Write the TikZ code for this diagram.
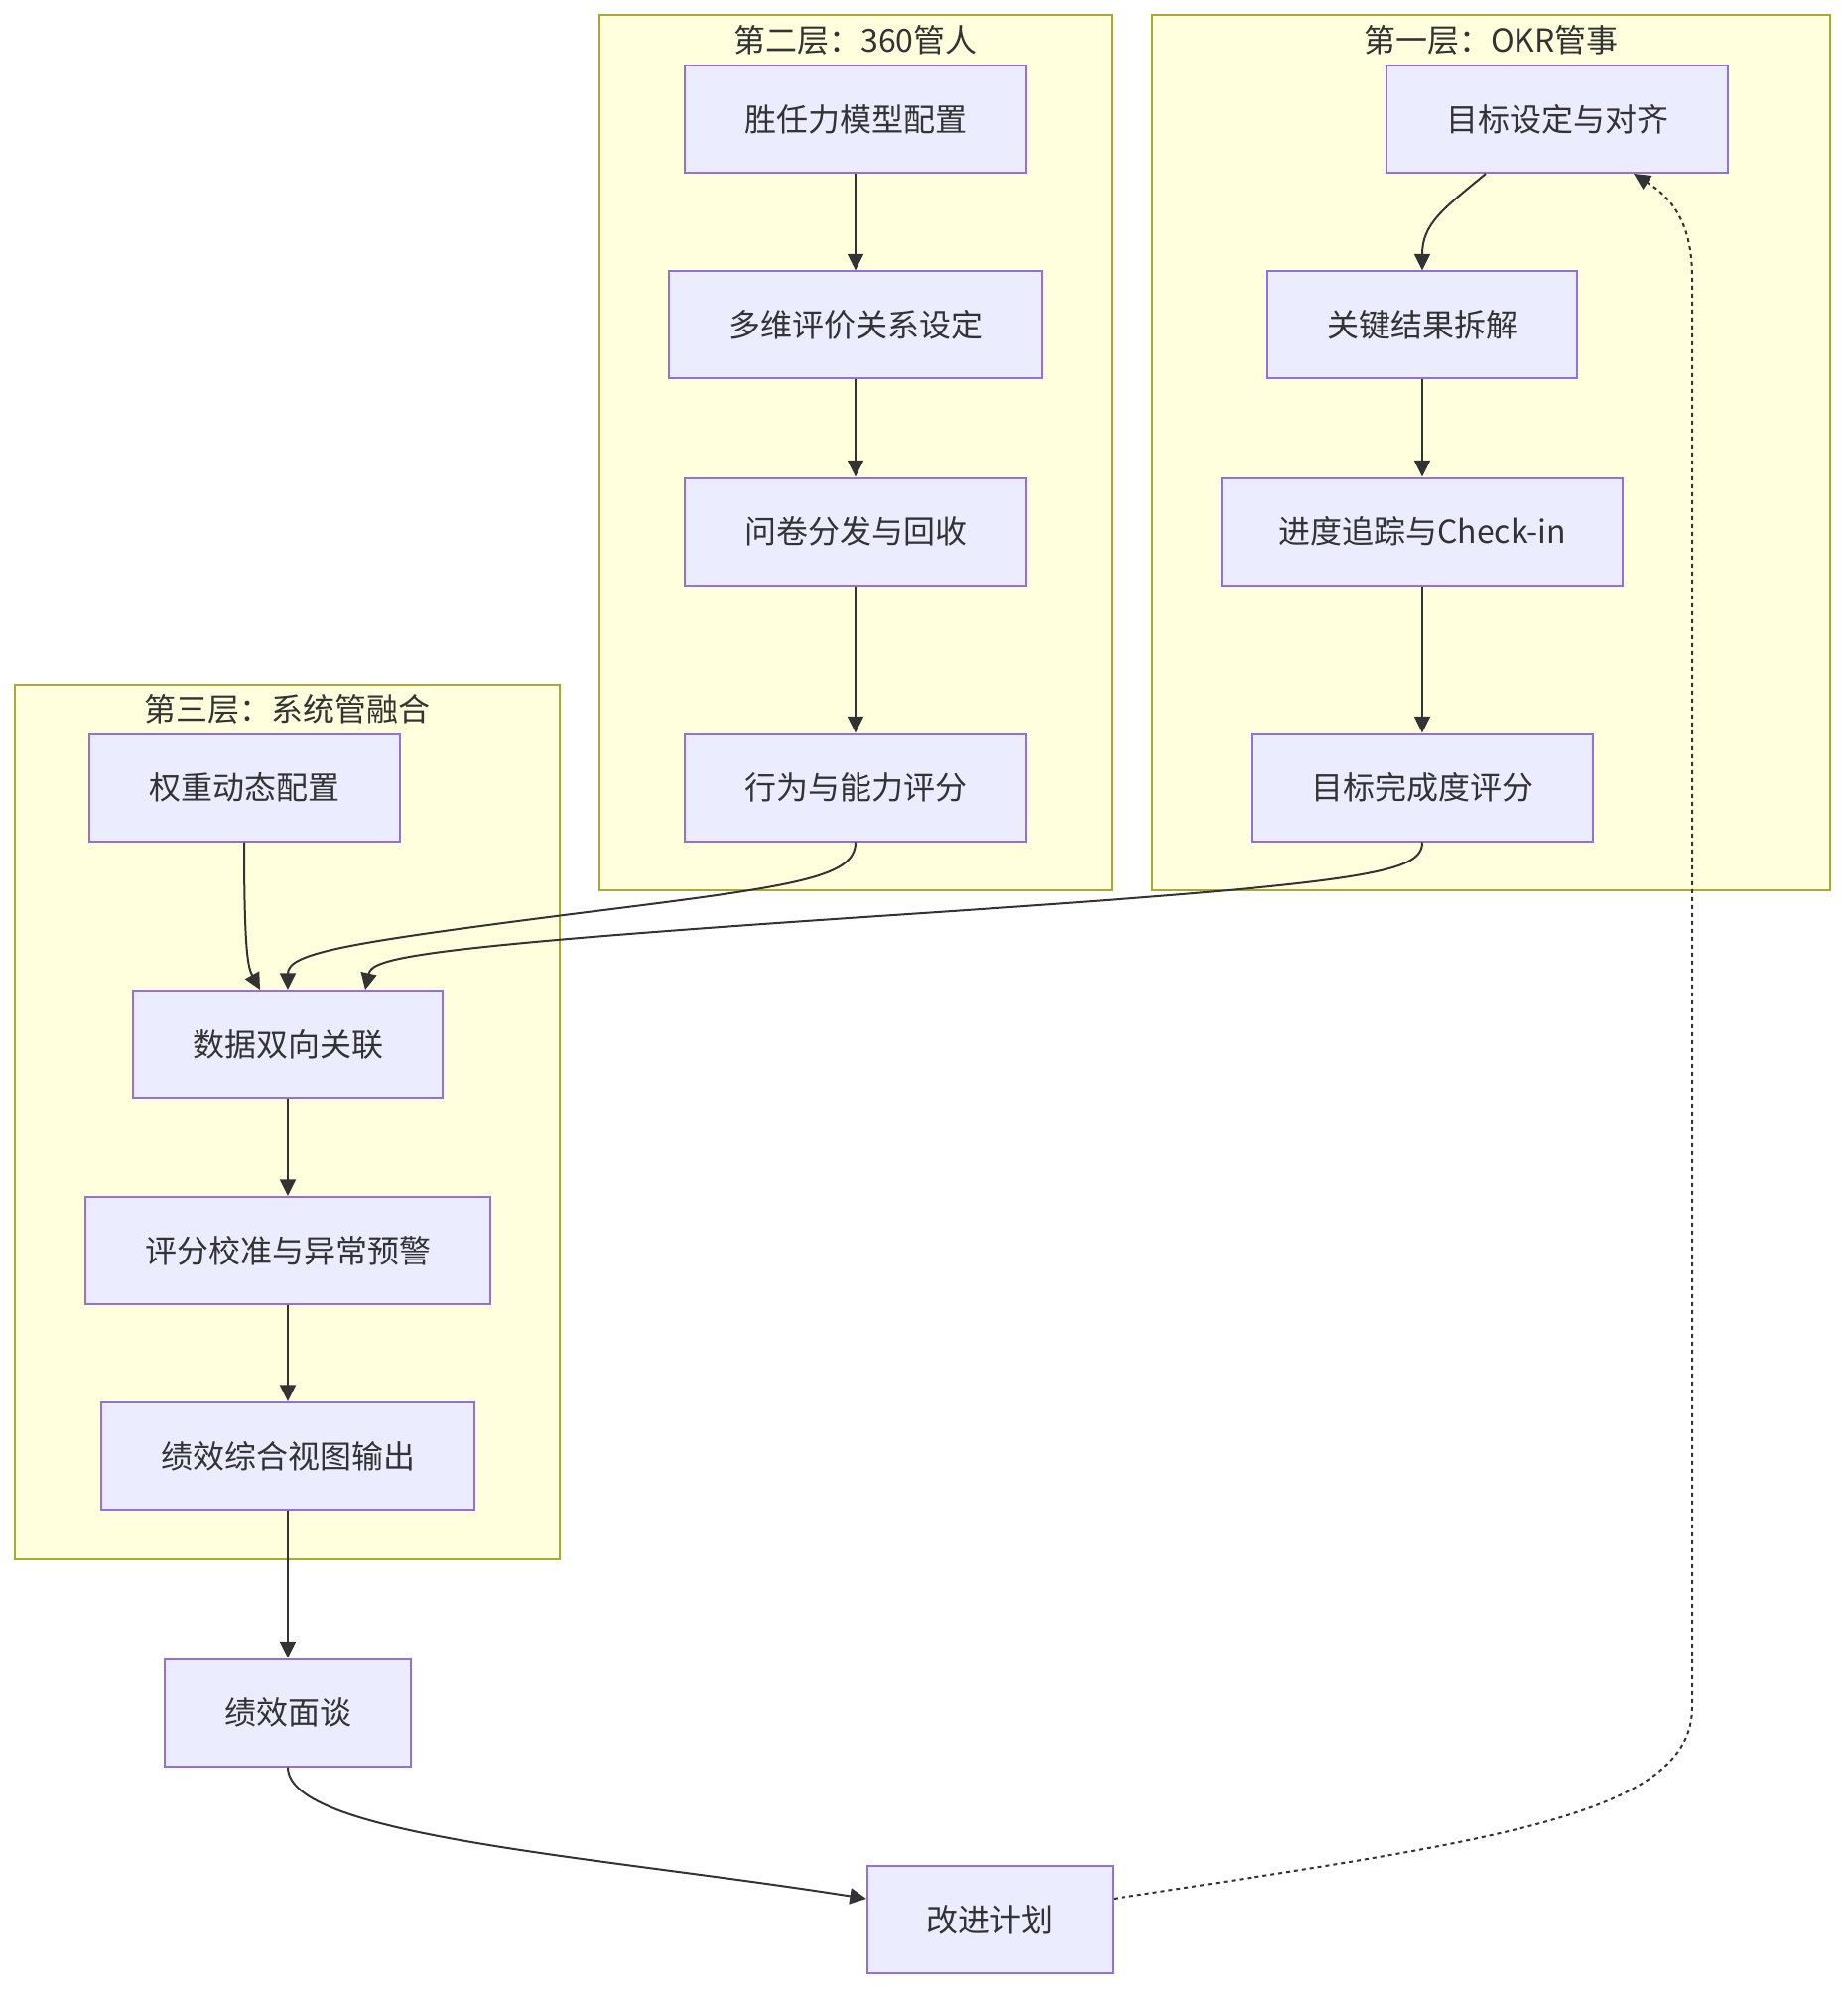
\documentclass[tikz,border=0pt]{standalone}
\usepackage{fontspec}
\setmainfont{Noto Sans CJK SC}
\usetikzlibrary{arrows.meta}
\newlength\pxu \setlength\pxu{0.75pt}
\definecolor{nodefill}{HTML}{ECECFF}
\definecolor{nodestroke}{HTML}{9370DB}
\definecolor{clfill}{HTML}{FFFFDE}
\definecolor{clstroke}{HTML}{AAAA33}
\definecolor{edgec}{HTML}{333333}
\definecolor{txt}{HTML}{333333}
\begin{document}
\begin{tikzpicture}[x=0.75pt,y=-0.75pt,
  box/.style={draw=nodestroke, fill=nodefill, line width=1.5pt, minimum height=108\pxu, inner sep=0pt, text=txt, font=\fontsize{24}{28}\selectfont},
  cluster/.style={draw=clstroke, fill=clfill, line width=1.5pt, inner sep=0pt},
  cltitle/.style={text=txt, inner sep=0pt, font=\fontsize{24}{28}\selectfont},
  edge/.style={draw=edgec, line width=1.5pt, -{Triangle[length=12.5pt,width=12pt]}},
  dotedge/.style={edge, dash pattern=on 3pt off 3pt}]
\useasboundingbox[fill=white] (0,0) rectangle (1861,2004);
% clusters
\node[cluster, minimum width=516\pxu, minimum height=882\pxu] (c2) at (862,456) {};
\node[cluster, minimum width=683\pxu, minimum height=882\pxu] (c1) at (1502.5,456) {};
\node[cluster, minimum width=549\pxu, minimum height=881\pxu] (c3) at (289.5,1130.5) {};
\node[cltitle] (t2) at (862,40) {第二层：360管人};
\node[cltitle] (t1) at (1502.5,40) {第一层：OKR管事};
\node[cltitle] (t3) at (289.5,714) {第三层：系统管融合};
% layer 2
\node[box, minimum width=344\pxu] (n2a) at (862,120) {胜任力模型配置};
\node[box, minimum width=376\pxu] (n2b) at (862,327.5) {多维评价关系设定};
\node[box, minimum width=344\pxu] (n2c) at (862,535.5) {问卷分发与回收};
\node[box, minimum width=344\pxu] (n2d) at (862,793.5) {行为与能力评分};
% layer 1
\node[box, minimum width=344\pxu] (n1a) at (1569,120) {目标设定与对齐};
\node[box, minimum width=312\pxu] (n1b) at (1433,327.5) {关键结果拆解};
\node[box, minimum width=404\pxu] (n1c) at (1433,535.5) {进度追踪与Check-in};
\node[box, minimum width=344\pxu] (n1d) at (1433,793.5) {目标完成度评分};
% layer 3
\node[box, minimum width=313\pxu] (n3a) at (246,793.5) {权重动态配置};
\node[box, minimum width=312\pxu] (n3b) at (290,1052) {数据双向关联};
\node[box, minimum width=408\pxu] (n3c) at (290,1260) {评分校准与异常预警};
\node[box, minimum width=376\pxu] (n3d) at (290,1467) {绩效综合视图输出};
% outside
\node[box, minimum width=248\pxu] (n4) at (290,1725.5) {绩效面谈};
\node[box, minimum width=247\pxu] (n5) at (997.5,1934) {改进计划};
% edges
\draw[edge] (n2a) -- (n2b);
\draw[edge] (n2b) -- (n2c);
\draw[edge] (n2c) -- (n2d);
\draw[edge] ([xshift=-72\pxu]n1a.south) .. controls (1455,210) and (1433,225) .. (n1b.north);
\draw[edge] (n1b) -- (n1c);
\draw[edge] (n1c) -- (n1d);
\draw[edge] (n3a.south) .. controls (246,960) and (250,975) .. ([xshift=-28\pxu]n3b.north);
\draw[edge] (n2d.south) .. controls (862,885) and (800,893) .. (576,921) .. controls (350,950) and (290,960) .. (n3b.north);
\draw[edge] (n1d.south) .. controls (1433,880) and (1380,890) .. (900,922) .. controls (420,954) and (375,965) .. ([xshift=78\pxu]n3b.north);
\draw[edge] (n3b) -- (n3c);
\draw[edge] (n3c) -- (n3d);
\draw[edge] (n3d) -- (n4);
\draw[edge] (n4.south) .. controls (290,1850) and (600,1870) .. ([yshift=21\pxu]n5.west);
\draw[dotedge] ([yshift=21\pxu]n5.east) .. controls (1500,1855) and (1705,1830) .. (1705,1720) -- (1705,280) .. controls (1705,225) and (1685,200) .. ([xshift=77\pxu]n1a.south);
\end{tikzpicture}
\end{document}
